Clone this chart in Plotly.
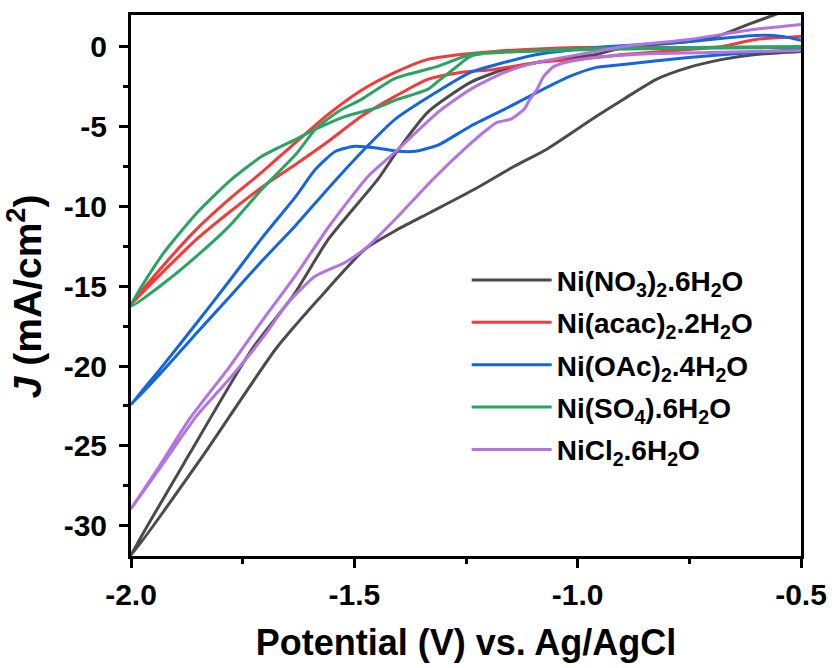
import plotly.graph_objects as go

# ---------------- data (V vs Ag/AgCl, J in mA/cm2) ----------------
# Ni(NO3)2.6H2O
no3_v1 = [-2.000, -1.869, -1.729, -1.636, -1.558, -1.447, -1.409, -1.336, -1.240, -1.164, -1.091, -0.958, -0.898, -0.751, -0.676, -0.618, -0.558, -0.500]
no3_j1 = [-31.88, -25.50, -18.93, -15.55, -12.05, -8.29, -6.73, -4.10, -2.22, -1.41, -0.97, -0.47, -0.03, 0.34, 0.78, 1.41, 2.03, 2.66]
no3_v2 = [-2.000, -1.836, -1.676, -1.580, -1.476, -1.402, -1.329, -1.231, -1.142, -1.069, -0.958, -0.898, -0.824, -0.751, -0.676, -0.602, -0.500]
no3_j2 = [-31.88, -25.50, -18.93, -15.80, -12.67, -11.42, -10.36, -8.92, -7.48, -6.41, -4.35, -3.29, -2.03, -1.28, -0.78, -0.47, -0.28]

# Ni(acac)2.2H2O
acac_v1 = [-2.000, -1.929, -1.853, -1.780, -1.707, -1.631, -1.558, -1.484, -1.409, -1.336, -1.262, -1.187, -1.002, -0.751, -0.500]
acac_j1 = [-16.11, -13.74, -11.42, -9.54, -7.85, -5.98, -4.22, -2.72, -1.60, -0.78, -0.47, -0.28, -0.03, -0.03, -0.03]
acac_v2 = [-2.000, -1.929, -1.853, -1.780, -1.707, -1.631, -1.558, -1.484, -1.409, -1.336, -1.262, -1.187, -1.091, -1.002, -0.898, -0.751, -0.676, -0.602, -0.500]
acac_j2 = [-16.11, -14.11, -12.05, -10.36, -8.79, -7.35, -5.91, -4.35, -3.10, -2.03, -1.60, -1.41, -0.97, -0.78, -0.47, -0.16, 0.03, 0.47, 0.66]

# Ni(OAc)2.4H2O
oac_v1 = [-2.000, -1.929, -1.853, -1.780, -1.707, -1.631, -1.587, -1.542, -1.498, -1.447, -1.402, -1.364, -1.313, -1.240, -1.164, -1.091, -1.018, -0.958, -0.898, -0.751, -0.602, -0.500]
oac_j1 = [-22.43, -19.99, -17.30, -14.67, -11.98, -9.36, -7.67, -6.54, -6.23, -6.35, -6.54, -6.54, -6.16, -4.97, -3.91, -2.85, -1.85, -1.28, -1.10, -0.66, -0.34, -0.16]
oac_v2 = [-2.000, -1.929, -1.853, -1.780, -1.707, -1.631, -1.558, -1.484, -1.409, -1.313, -1.240, -1.164, -1.091, -0.958, -0.751, -0.602, -0.542, -0.500]
oac_j2 = [-22.43, -20.31, -17.93, -15.68, -13.42, -11.17, -8.85, -6.60, -4.54, -2.78, -1.60, -0.97, -0.47, -0.03, 0.34, 0.72, 0.66, 0.41]

# Ni(SO4).6H2O
so4_v1 = [-2.000, -1.929, -1.853, -1.780, -1.707, -1.631, -1.587, -1.520, -1.447, -1.409, -1.336, -1.313, -1.276, -1.240, -1.187, -1.113, -0.958, -0.751, -0.500]
so4_j1 = [-16.24, -12.99, -10.42, -8.42, -6.85, -5.79, -5.16, -4.35, -3.79, -3.35, -2.66, -2.16, -1.35, -0.59, -0.34, -0.28, -0.16, -0.09, -0.03]
so4_v2 = [-2.000, -1.929, -1.853, -1.780, -1.707, -1.631, -1.587, -1.536, -1.484, -1.409, -1.313, -1.240, -1.164, -0.958, -0.751, -0.500]
so4_j2 = [-16.24, -14.86, -13.11, -11.23, -8.92, -6.73, -5.16, -4.04, -3.29, -1.97, -1.22, -0.47, -0.34, -0.09, -0.03, 0.03]

# NiCl2.6H2O
cl_v1 = [-2.000, -1.936, -1.869, -1.780, -1.707, -1.631, -1.558, -1.469, -1.409, -1.313, -1.240, -1.164, -1.091, -0.958, -0.898, -0.751, -0.602, -0.500]
cl_j1 = [-28.94, -26.25, -23.31, -20.06, -17.18, -14.30, -11.30, -8.10, -6.60, -4.10, -2.66, -1.60, -0.97, -0.28, 0.03, 0.47, 1.10, 1.41]
cl_v2 = [-2.000, -1.924, -1.853, -1.780, -1.707, -1.647, -1.587, -1.520, -1.469, -1.402, -1.324, -1.247, -1.202, -1.180, -1.151, -1.120, -1.107, -1.091, -1.076, -1.053, -1.018, -0.958, -0.824, -0.676, -0.500]
cl_j2 = [-28.94, -25.94, -23.12, -20.81, -18.30, -15.99, -14.36, -13.49, -12.48, -10.61, -8.29, -6.23, -5.16, -4.72, -4.54, -3.91, -3.29, -2.66, -1.85, -1.22, -0.91, -0.66, -0.41, -0.34, -0.22]

names = [
    "Ni(NO<sub>3</sub>)<sub>2</sub>.6H<sub>2</sub>O",
    "Ni(acac)<sub>2</sub>.2H<sub>2</sub>O",
    "Ni(OAc)<sub>2</sub>.4H<sub>2</sub>O",
    "Ni(SO<sub>4</sub>).6H<sub>2</sub>O",
    "NiCl<sub>2</sub>.6H<sub>2</sub>O",
]
colors = ["#4b4b4b", "#f23b3b", "#1565df", "#2ba363", "#b274e2"]

series = [
    (no3_v1, no3_j1, no3_v2, no3_j2),
    (acac_v1, acac_j1, acac_v2, acac_j2),
    (oac_v1, oac_j1, oac_v2, oac_j2),
    (so4_v1, so4_j1, so4_v2, so4_j2),
    (cl_v1, cl_j1, cl_v2, cl_j2),
]

x_ticks = [-2.0, -1.5, -1.0, -0.5]
x_ticktext = ["-2.0", "-1.5", "-1.0", "-0.5"]
y_ticks = [0, -5, -10, -15, -20, -25, -30]
y_ticktext = ["0", "-5", "-10", "-15", "-20", "-25", "-30"]

FONT = "Liberation Sans, Arial, sans-serif"

fig = go.Figure()
for i, ((v1, j1, v2, j2), nm, col) in enumerate(zip(series, names, colors)):
    xs = list(reversed(v1)) + v2[1:]
    ys = list(reversed(j1)) + j2[1:]
    fig.add_trace(go.Scatter(
        x=xs, y=ys, mode="lines", name=nm, legendgroup=f"g{i}",
        line=dict(color=col, width=3, shape="spline", smoothing=0.6),
    ))

axis_common = dict(
    showline=True, linecolor="black", linewidth=3, mirror=True,
    ticks="outside", ticklen=9, tickwidth=2.5, tickcolor="black",
    showgrid=False, zeroline=False,
    tickfont=dict(family=FONT, size=30, color="black", weight="bold"),
)

fig.update_xaxes(
    range=[-2.0, -0.5], tickmode="array", tickvals=x_ticks, ticktext=x_ticktext,
    minor=dict(tickmode="linear", tick0=-2.0, dtick=0.25, ticks="outside",
               ticklen=5, tickwidth=2.5, tickcolor="black"),
    title=dict(text="<b>Potential (V) vs. Ag/AgCl</b>",
               font=dict(family=FONT, size=36, color="black"), standoff=20),
    ticklabelstandoff=1,
    **axis_common,
)
fig.update_yaxes(
    range=[-31.9, 2.0], tickmode="array", tickvals=y_ticks, ticktext=y_ticktext,
    minor=dict(tickmode="linear", tick0=0, dtick=2.5, ticks="outside",
               ticklen=5, tickwidth=2.5, tickcolor="black"),
    title=dict(text="<b><i>J</i> (mA/cm<sup>2</sup>)\u00a0\u00a0</b>",
               font=dict(family=FONT, size=39, color="black"), standoff=12),
    ticklabelstandoff=6,
    **axis_common,
)

fig.update_layout(
    width=839, height=668,
    margin=dict(l=131, r=33, t=15, b=110),
    paper_bgcolor="white", plot_bgcolor="white",
    showlegend=True,
    legend=dict(
        x=0.501, y=0.556, xanchor="left", yanchor="top",
        bgcolor="rgba(0,0,0,0)", borderwidth=0,
        font=dict(family=FONT, size=28, color="black", weight="bold"),
        itemwidth=80, tracegroupgap=3,
    ),
)

fig.write_html("out.html")
